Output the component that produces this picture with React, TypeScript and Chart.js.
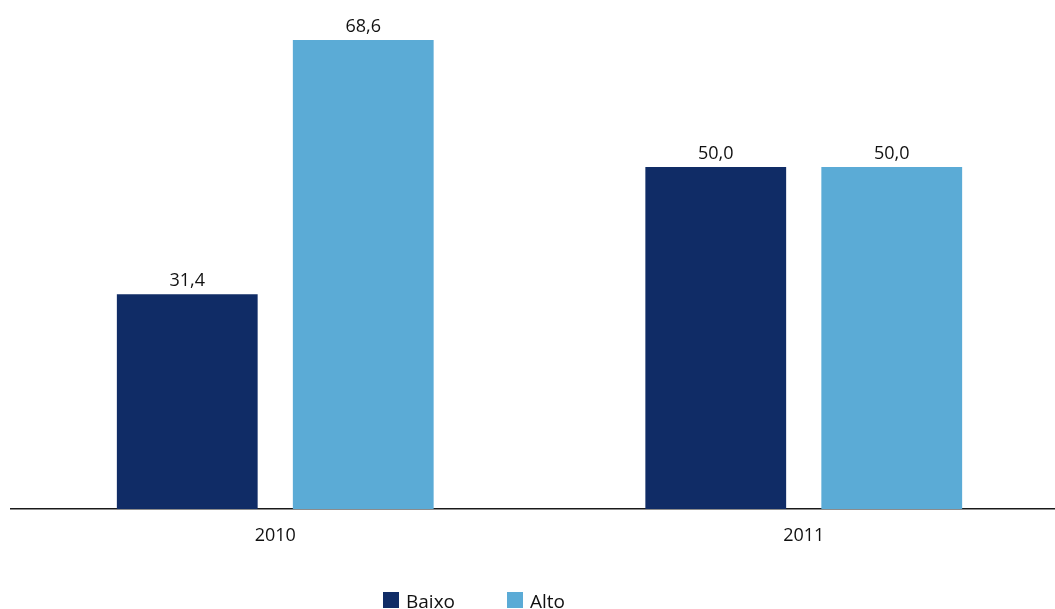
import React, { useEffect, useRef } from "react";
import { Chart, registerables } from "chart.js";

Chart.register(...registerables);

const categories: string[] = ["2010", "2011"];
const seriesNames: string[] = ["Baixo", "Alto"];
const baixoValues: number[] = [31.4, 50.0];
const altoValues: number[] = [68.6, 50.0];
const seriesColors: string[] = ["#102c66", "#5babd6"];

const FONT = "'Open Sans', 'Noto Sans', sans-serif";

const valueLabels = {
  id: "valueLabels",
  afterDatasetsDraw(chart: any) {
    const ctx = chart.ctx;
    ctx.save();
    ctx.font = `18px ${FONT}`;
    ctx.fillStyle = "#111";
    ctx.textAlign = "center";
    ctx.textBaseline = "alphabetic";
    chart.data.datasets.forEach((ds: any, i: number) => {
      const meta = chart.getDatasetMeta(i);
      meta.data.forEach((bar: any, j: number) => {
        const v = ds.data[j] as number;
        ctx.fillText(v.toFixed(1).replace(".", ","), bar.x, bar.y - 8);
      });
    });
    ctx.restore();
  },
};

export default function App() {
  const canvasRef = useRef<HTMLCanvasElement | null>(null);

  useEffect(() => {
    if (!canvasRef.current) return;
    const chart = new Chart(canvasRef.current, {
      type: "bar",
      data: {
        labels: categories,
        datasets: [
          {
            label: seriesNames[0],
            data: baixoValues,
            backgroundColor: seriesColors[0],
            barPercentage: 0.8,
            categoryPercentage: 0.666,
          },
          {
            label: seriesNames[1],
            data: altoValues,
            backgroundColor: seriesColors[1],
            barPercentage: 0.8,
            categoryPercentage: 0.666,
          },
        ],
      },
      options: {
        animation: false,
        responsive: true,
        maintainAspectRatio: false,
        layout: { padding: { left: 11, right: 12, top: 3, bottom: 0 } },
        plugins: {
          legend: { display: false },
          tooltip: { enabled: false },
        },
        scales: {
          x: {
            grid: { display: false },
            border: { display: true, color: "#1a1a1a", width: 1.5 },
            ticks: {
              color: "#111",
              font: { family: FONT, size: 18 },
              padding: 8,
            },
            afterFit: (scale: any) => {
              scale.height = 100;
            },
          },
          y: {
            display: false,
            min: 0,
            max: 74,
          },
        },
      },
      plugins: [valueLabels],
    });
    return () => chart.destroy();
  }, []);

  const legendItem = (left: number, color: string, text: string) => (
    <div
      style={{
        position: "absolute",
        left,
        top: 592,
        height: 16,
        display: "flex",
        alignItems: "center",
      }}
    >
      <div style={{ width: 16, height: 16, background: color }} />
      <span
        style={{
          marginLeft: 7,
          fontFamily: FONT,
          fontSize: 19,
          color: "#111",
          lineHeight: "16px",
          position: "relative",
          top: 1,
        }}
      >
        {text}
      </span>
    </div>
  );

  return (
    <div
      style={{
        position: "fixed",
        left: 0,
        top: 0,
        width: 1055,
        height: 609,
        overflow: "hidden",
        background: "#fff",
      }}
    >
      <div style={{ position: "absolute", left: 0, top: 0, width: 1080, height: 609 }}>
        <canvas ref={canvasRef} />
      </div>
      {legendItem(383, seriesColors[0], seriesNames[0])}
      {legendItem(507, seriesColors[1], seriesNames[1])}
    </div>
  );
}
